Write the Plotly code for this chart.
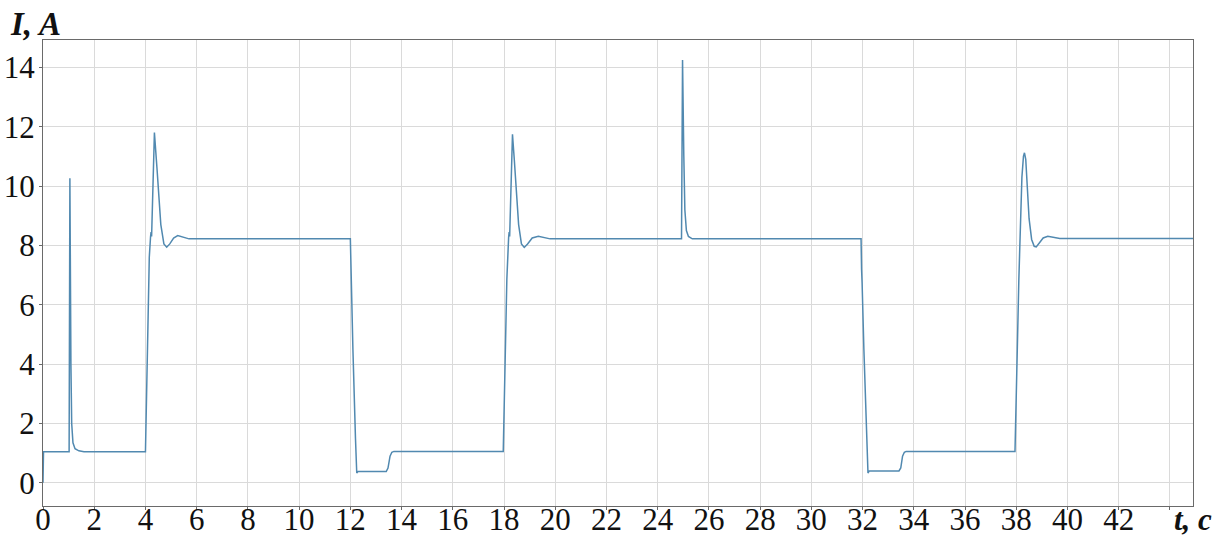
import plotly.graph_objects as go

# Current waveform I(t): breakpoints of the recorded trace
t_s = [
    0.0, 0.02, 1.02, 1.05, 1.09, 1.12, 1.17, 1.25, 1.4, 1.6,
    4.0, 4.03, 4.08, 4.15, 4.2, 4.22, 4.24, 4.3, 4.35, 4.45, 4.6, 4.72, 4.83, 4.95, 5.1, 5.26, 5.45, 5.7,
    12.0, 12.02, 12.03, 12.1, 12.2, 12.25, 12.3, 13.4, 13.47, 13.55, 13.62, 13.7,
    17.97, 18.0, 18.06, 18.11, 18.18, 18.2, 18.22, 18.27, 18.33, 18.4, 18.46, 18.57, 18.68, 18.79, 18.92, 19.1, 19.34, 19.55, 19.8,
    24.93, 24.97, 25.02, 25.06, 25.12, 25.2, 25.35,
    31.94, 31.96, 31.98, 32.05, 32.15, 32.21, 32.26, 33.42, 33.49, 33.56, 33.63, 33.7,
    37.95, 37.98, 38.04, 38.1, 38.16, 38.22, 38.28, 38.32, 38.37, 38.42, 38.5, 38.6, 38.7, 38.78, 38.9, 39.05, 39.23, 39.45, 39.7,
    44.9,
]
current_a = [
    0.0, 1.05, 1.05, 10.26, 4.0, 2.0, 1.35, 1.15, 1.08, 1.05,
    1.05, 2.56, 5.0, 7.6, 8.3, 8.45, 8.3, 10.5, 11.8, 10.6, 8.7, 8.05, 7.94, 8.05, 8.25, 8.33, 8.28, 8.22,
    8.22, 7.2, 6.75, 4.5, 1.5, 0.33, 0.38, 0.38, 0.5, 0.9, 1.03, 1.06,
    1.06, 2.6, 5.0, 6.85, 8.27, 8.45, 8.3, 10.4, 11.74, 10.9, 9.99, 8.7, 8.05, 7.93, 8.05, 8.25, 8.31, 8.26, 8.22,
    8.22, 14.25, 11.0, 9.2, 8.5, 8.3, 8.22,
    8.22, 7.2, 6.75, 4.5, 1.5, 0.33, 0.4, 0.4, 0.5, 0.9, 1.03, 1.06,
    1.06, 2.6, 4.5, 6.85, 8.8, 10.3, 11.0, 11.12, 10.9, 10.0, 8.9, 8.2, 7.97, 7.95, 8.07, 8.25, 8.31, 8.27, 8.23,
    8.23,
]

x_ticks = list(range(0, 46, 2))
x_tick_text = [str(v) for v in range(0, 44, 2)] + [""]
y_ticks = list(range(0, 16, 2))

serif = "Liberation Serif"

fig = go.Figure(
    go.Scatter(
        x=t_s,
        y=current_a,
        mode="lines",
        line=dict(color="#5189b0", width=1.5),
        hoverinfo="skip",
    )
)

axis_common = dict(
    showgrid=True,
    gridcolor="#dadada",
    gridwidth=1,
    showline=True,
    linecolor="#6a6a6a",
    linewidth=1,
    mirror=True,
    ticks="outside",
    ticklen=3,
    tickcolor="#6a6a6a",
    zeroline=False,
    automargin=False,
    tickfont=dict(family=serif, size=31, color="#111111"),
)

fig.update_layout(
    width=1227,
    height=537,
    margin=dict(l=43, r=34, t=40, b=31),
    paper_bgcolor="white",
    plot_bgcolor="white",
    showlegend=False,
    xaxis=dict(range=[0, 44.9], tickvals=x_ticks, ticktext=x_tick_text,
               ticklabelstandoff=-17, **axis_common),
    yaxis=dict(range=[-0.78, 14.92], tickvals=y_ticks,
               ticklabelstandoff=-2, **axis_common),
    annotations=[
        dict(
            text="<b><i>I, A</i></b>", xref="paper", yref="paper",
            x=-0.0061, y=1.034, xanchor="center", yanchor="middle",
            showarrow=False, font=dict(family=serif, size=33, color="#111111"),
        ),
        dict(
            text="<b><i>t, c</i></b>", xref="paper", yref="paper",
            x=1.0, y=-0.028, xanchor="center", yanchor="middle",
            showarrow=False, font=dict(family=serif, size=31, color="#111111"),
        ),
    ],
)

fig.write_html("out.html")
